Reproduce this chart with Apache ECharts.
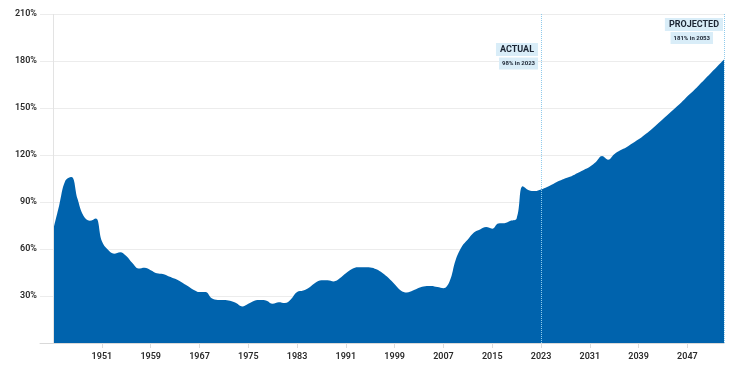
<!DOCTYPE html>
<html>
<head>
<meta charset="utf-8">
<script src="https://cdn.jsdelivr.net/npm/echarts@6/dist/echarts.min.js"></script>
<style>html,body{margin:0;padding:0;background:#fff}#c{width:734px;height:370px}</style>
</head>
<body>
<div id="c"></div>
<script>
// Debt held by the public, % of GDP
const actualStartYear = 1943;
const actualValues = [
  72, 88, 103.5, 106, 92, 81, 78, 79.5, 65, 59.5,
  57, 58, 55.5, 51, 47.5, 48, 46.5, 44.5, 44, 42.5,
  41, 39, 36.5, 34, 32.5, 32.5, 28.5, 27.5, 27.5, 27,
  25.5, 23.3, 25, 27, 27.5, 27, 25, 26, 25.5, 28,
  32.5, 33.5, 35.5, 38.5, 40, 40, 39.3, 41.3, 44.5, 47.2,
  48.3, 48.3, 48.2, 47, 44.7, 41.5, 37.5, 33.5, 32.2, 33.5,
  35.3, 36.3, 36.4, 35.7, 35, 39.3, 53, 61.5, 66, 70.5,
  72.5, 74, 73, 76.3, 76.5, 78, 79.5, 100, 97.5, 97,
  98
];
const projectedStartYear = 2024;
const projectedValues = [
  99.6, 101.5, 103.5, 105.2, 106.5, 108.5, 110.5, 112.5, 115.5, 119.3,
  117, 120.5, 123, 125, 127.5, 130, 133, 136, 139.5, 143,
  146.5, 150, 153.5, 157.5, 161, 165, 169, 173, 177, 181
];
const xTickLabels = [1951, 1959, 1967, 1975, 1983, 1991, 1999, 2007, 2015, 2023, 2031, 2039, 2047];
const yTicks = [0, 30, 60, 90, 120, 150, 180, 210];
const actualNote = { title: 'ACTUAL', sub: '98% in 2023', year: 2023 };
const projectedNote = { title: 'PROJECTED', sub: '181% in 2053', year: 2053 };

const seriesData = actualValues.map((v, i) => [actualStartYear + i, v])
  .concat(projectedValues.map((v, i) => [projectedStartYear + i, v]));
const firstYear = actualStartYear;
const lastYear = projectedStartYear + projectedValues.length - 1;

const chart = echarts.init(document.getElementById('c'));
const FONT = 'Roboto, "Liberation Sans", sans-serif';
chart.setOption({
  animation: false,
  grid: { left: 40, right: 10, top: 14, bottom: 27, containLabel: false },
  xAxis: {
    type: 'value', min: 1940.85, max: lastYear,
    axisLine: { show: true, lineStyle: { color: '#d9d9d9', width: 1 } },
    axisTick: { show: true, customValues: xTickLabels, length: 5, lineStyle: { color: '#dcdcdc' } },
    axisLabel: { customValues: xTickLabels, color: '#2b2b2b', fontSize: 9, fontWeight: 600, fontFamily: FONT, margin: 9,
      formatter: v => String(v) },
    splitLine: { show: false }
  },
  yAxis: {
    type: 'value', min: yTicks[0], max: yTicks[yTicks.length - 1], interval: 30,
    axisLine: { show: false }, axisTick: { show: false },
    axisLabel: { color: '#2b2b2b', fontSize: 9, fontWeight: 600, fontFamily: FONT, margin: 3,
      formatter: v => v === 0 ? '' : v + '%' },
    splitLine: { lineStyle: { color: '#ececec', width: 1 } }
  },
  series: [{
    type: 'line', data: seriesData, smooth: 0.4, symbol: 'none',
    lineStyle: { width: 0 },
    areaStyle: { color: '#0063ad', opacity: 1 },
    markLine: {
      silent: true, symbol: 'none', label: { show: false }, z: 10,
      data: [
        { xAxis: firstYear, lineStyle: { color: '#e3e3e3', type: 'solid', width: 1 } },
        { xAxis: actualNote.year, lineStyle: { color: '#8fcbec', type: 'dotted', width: 1 } },
        { xAxis: projectedNote.year, lineStyle: { color: '#8fcbec', type: 'dotted', width: 1 } }
      ]
    }
  }]
});

const pA = chart.convertToPixel({ gridIndex: 0 }, [actualNote.year, 0])[0];
const pP = chart.convertToPixel({ gridIndex: 0 }, [projectedNote.year, 0])[0];
const boxFill = '#d9edf8';
function box(right, top, text, size, pad) {
  return {
    type: 'text', right: null, x: right, y: top, z: 100,
    style: { text: text, fill: '#1c2533', font: '700 ' + size + 'px ' + FONT,
      align: 'right', verticalAlign: 'top', backgroundColor: boxFill, padding: pad }
  };
}
chart.setOption({
  graphic: [
    box(pA - 3, 43, actualNote.title, 9, [2, 4, 2, 4]),
    box(pA - 3, 57.5, actualNote.sub, 6, [3, 3, 3, 3]),
    box(pP - 1, 18, projectedNote.title, 9, [2, 4, 2, 4]),
    box(pP - 11, 32, projectedNote.sub, 6, [3, 3, 3, 3])
  ]
});
</script>
</body>
</html>
